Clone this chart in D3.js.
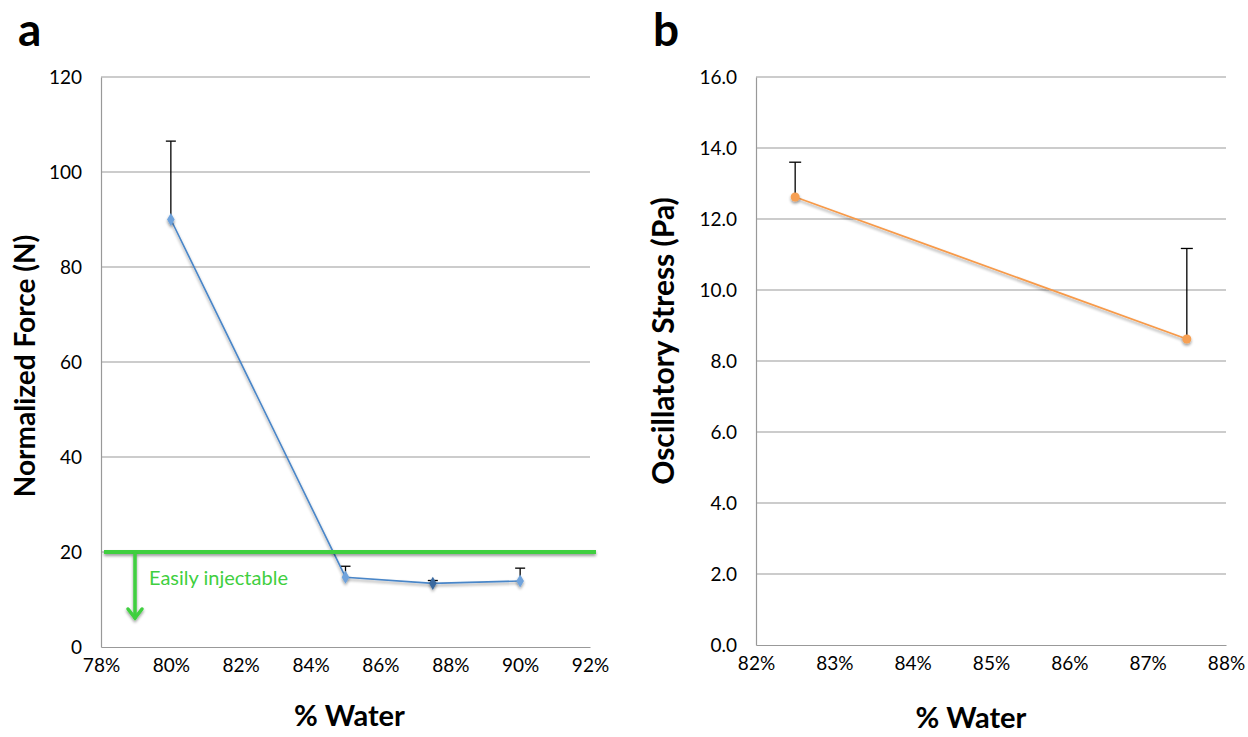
<!DOCTYPE html>
<html>
<head>
<meta charset="utf-8">
<script src="https://cdn.jsdelivr.net/npm/d3@7"></script>
<style>
  body { margin: 0; background: #fff; }
  svg text { font-family: Lato, "Open Sans", "Liberation Sans", sans-serif; }
</style>
</head>
<body>
<svg id="fig" width="1248" height="737"></svg>
<script>
// Panel a: injection force versus water content
const waterA = [80, 85, 87.5, 90];
const forceA = [90, 14.7, 13.4, 13.9];
const forceErrA = [16.5, 2.3, 0.6, 2.7];
const xTicksA = [78, 80, 82, 84, 86, 88, 90, 92];
const yTicksA = [0, 20, 40, 60, 80, 100, 120];
const injectableLimit = 20;

// Panel b: oscillatory stress versus water content
const waterB = [82.5, 87.5];
const stressB = [12.62, 8.62];
const stressErrB = [0.98, 2.55];
const xTicksB = [82, 83, 84, 85, 86, 87, 88];
const yTicksB = [0, 2, 4, 6, 8, 10, 12, 14, 16];

const svg = d3.select("#fig");
const defs = svg.append("defs");

// soft drop shadows: one in user space (works on straight lines), one relative to the shape (markers)
function addShadow(id, region) {
  const f = defs.append("filter").attr("id", id);
  Object.entries(region).forEach(([k, v]) => f.attr(k, v));
  f.append("feGaussianBlur").attr("in", "SourceAlpha").attr("stdDeviation", 1.6);
  f.append("feOffset").attr("dx", 0).attr("dy", 1.5);
  f.append("feComponentTransfer").append("feFuncA").attr("type", "linear").attr("slope", 0.4);
  const mg = f.append("feMerge");
  mg.append("feMergeNode");
  mg.append("feMergeNode").attr("in", "SourceGraphic");
}
addShadow("shadowLine", { filterUnits: "userSpaceOnUse", x: 0, y: 0, width: 1248, height: 737 });
addShadow("shadowMark", { x: "-100%", y: "-100%", width: "300%", height: "300%" });

const tickFont = 19;

function panel(cfg) {
  const g = svg.append("g");
  const x = d3.scaleLinear().domain(cfg.xDomain).range([cfg.left, cfg.right]);
  const y = d3.scaleLinear().domain(cfg.yDomain).range([cfg.bottom, cfg.top]);

  // horizontal gridlines
  g.append("g").selectAll("line").data(cfg.yTicks.filter(d => d !== cfg.yDomain[0])).join("line")
    .attr("x1", cfg.left).attr("x2", cfg.right)
    .attr("y1", d => y(d)).attr("y2", d => y(d))
    .attr("stroke", "#999").attr("stroke-width", 1.2);

  // axes
  const ya = d3.axisLeft(y).tickValues(cfg.yTicks).tickSize(0).tickPadding(19).tickFormat(cfg.yFmt);
  g.append("g").attr("transform", `translate(${cfg.left},0)`).call(ya)
    .call(s => s.select(".domain").attr("stroke", "#999").attr("stroke-width", 1.2))
    .call(s => s.selectAll("text").attr("font-size", tickFont).attr("fill", "#000")
      .style("font-family", "Lato, 'Open Sans', sans-serif"));
  const xa = d3.axisBottom(x).tickValues(cfg.xTicks).tickSize(0).tickPadding(12).tickFormat(d => d + "%");
  g.append("g").attr("transform", `translate(0,${cfg.bottom})`).call(xa)
    .call(s => s.select(".domain").attr("stroke", "#999").attr("stroke-width", 1.2))
    .call(s => s.selectAll("text").attr("font-size", tickFont).attr("fill", "#000")
      .style("font-family", "Lato, 'Open Sans', sans-serif"));

  // titles
  g.append("text").attr("x", (cfg.left + cfg.right) / 2 + cfg.xTitleDx).attr("y", cfg.xTitleY)
    .attr("text-anchor", "middle").attr("font-size", 29).attr("font-weight", "bold").text("% Water");
  g.append("text").attr("transform", `translate(${cfg.yTitleX},${cfg.yTitleY}) rotate(-90)`)
    .attr("text-anchor", "middle").attr("font-size", cfg.yTitleSize).attr("font-weight", "bold").text(cfg.yTitle);
  g.append("text").attr("x", cfg.letterX).attr("y", 46).attr("font-size", 46).attr("font-weight", "bold").text(cfg.letter);

  return { g, x, y };
}

// ---- panel a ----
const A = panel({
  left: 101, right: 590, top: 77, bottom: 647,
  xDomain: [78, 92], yDomain: [0, 120], xTicks: xTicksA, yTicks: yTicksA,
  yFmt: d3.format("d"), yTitle: "Normalized Force (N)", yTitleSize: 28, yTitleX: 35, yTitleY: 366,
  xTitleY: 726, xTitleDx: 4, letter: "a", letterX: 18
});

// error bars (upper only)
const ebA = A.g.append("g").attr("stroke", "#000").attr("stroke-width", 1.3);
waterA.forEach((w, i) => {
  const cx = A.x(w), y0 = A.y(forceA[i]), y1 = A.y(forceA[i] + forceErrA[i]);
  ebA.append("line").attr("x1", cx).attr("x2", cx).attr("y1", y0).attr("y2", y1);
  ebA.append("line").attr("x1", cx - 5).attr("x2", cx + 5).attr("y1", y1).attr("y2", y1);
});

A.g.append("path").datum(waterA.map((w, i) => [w, forceA[i]]))
  .attr("d", d3.line().x(d => A.x(d[0])).y(d => A.y(d[1])))
  .attr("fill", "none").attr("stroke", "#4a86c8").attr("stroke-width", 1.6).attr("filter", "url(#shadowLine)");
A.g.append("g").selectAll("path").data(waterA).join("path")
  .attr("d", d3.symbol(d3.symbolDiamond, 50))
  .attr("transform", (d, i) => `translate(${A.x(d)},${A.y(forceA[i])})`)
  .attr("fill", (d, i) => i === 2 ? "#3a6aa0" : "#6fa3dc").attr("filter", "url(#shadowMark)");

// injectability threshold and annotation
const green = "#3fcf3f";
A.g.append("line").attr("x1", 104).attr("x2", 596)
  .attr("y1", A.y(injectableLimit)).attr("y2", A.y(injectableLimit))
  .attr("stroke", green).attr("stroke-width", 4).attr("filter", "url(#shadowLine)");
const arrowY0 = A.y(injectableLimit) + 2, arrowY1 = A.y(injectableLimit) + 66;
const arr = A.g.append("g").attr("stroke", green).attr("stroke-width", 3.5).attr("fill", "none")
  .attr("stroke-linecap", "round").attr("filter", "url(#shadowLine)");
arr.append("line").attr("x1", 135).attr("x2", 135).attr("y1", arrowY0).attr("y2", arrowY1);
arr.append("path").attr("d", `M${128},${arrowY1 - 9} L135,${arrowY1} L${142},${arrowY1 - 9}`);
A.g.append("text").attr("x", 149).attr("y", A.y(injectableLimit) + 33)
  .attr("font-size", 20).attr("fill", green).text("Easily injectable");

// ---- panel b ----
const B = panel({
  left: 756, right: 1226, top: 77, bottom: 645,
  xDomain: [82, 88], yDomain: [0, 16], xTicks: xTicksB, yTicks: yTicksB,
  yFmt: d3.format(".1f"), yTitle: "Oscillatory Stress (Pa)", yTitleSize: 30, yTitleX: 674, yTitleY: 341,
  xTitleY: 728, xTitleDx: -20, letter: "b", letterX: 653
});

const ebB = B.g.append("g").attr("stroke", "#000").attr("stroke-width", 1.3);
waterB.forEach((w, i) => {
  const cx = B.x(w), y0 = B.y(stressB[i]), y1 = B.y(stressB[i] + stressErrB[i]);
  ebB.append("line").attr("x1", cx).attr("x2", cx).attr("y1", y0).attr("y2", y1);
  ebB.append("line").attr("x1", cx - 6).attr("x2", cx + 6).attr("y1", y1).attr("y2", y1);
});
B.g.append("path").datum(waterB.map((w, i) => [w, stressB[i]]))
  .attr("d", d3.line().x(d => B.x(d[0])).y(d => B.y(d[1])))
  .attr("fill", "none").attr("stroke", "#f79a4a").attr("stroke-width", 1.8).attr("filter", "url(#shadowLine)");
B.g.append("g").selectAll("circle").data(waterB).join("circle")
  .attr("cx", d => B.x(d)).attr("cy", (d, i) => B.y(stressB[i])).attr("r", 4.5)
  .attr("fill", "#f7a052").attr("filter", "url(#shadowMark)");
</script>
</body>
</html>
